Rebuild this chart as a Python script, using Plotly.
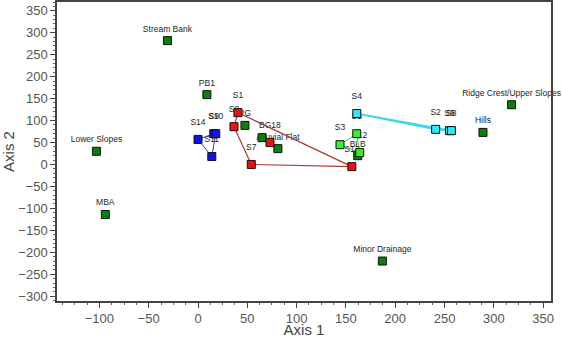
import plotly.graph_objects as go

# ---- data ----
hab_names = ["Stream Bank", "PB1", "Lower Slopes", "MBA", "Minor Drainage",
             "Ridge Crest/Upper Slopes", "Hills", "PG", "", "Alluvial Flat", "BLB"]
hab_x = [-31, 9, -103, -94, 187, 318, 289, 47.6, 65, 81, 162]
hab_y = [282, 159, 30, -114, -220, 136, 73, 89, 61, 36, 20]

red_names = ["S1", "S8", "BG18", "S7", "S13"]
red_x = [40.5, 36.5, 73, 54, 156]
red_y = [118, 86, 50, 0, -5]

blue_names = ["S14", "S9", "S10", "S11"]
blue_x = [0, 16, 18, 14]
blue_y = [57, 70, 70, 18]

cyan_names = ["S4", "S2", "S6", "S8"]
cyan_x = [161, 241, 255, 257]
cyan_y = [116, 80, 77, 77]

lime_names = ["S5", "S3", "S12"]
lime_x = [161, 144, 164]
lime_y = [70, 45, 27]

x_ticks = [-100, -50, 0, 50, 100, 150, 200, 250, 300, 350]
y_ticks = [-300, -250, -200, -150, -100, -50, 0, 50, 100, 150, 200, 250, 300, 350]


def hull(xs, ys):
    pts = sorted(set(zip(xs, ys)))
    if len(pts) < 3:
        return [p[0] for p in pts], [p[1] for p in pts]

    def cross(o, a, b):
        return (a[0] - o[0]) * (b[1] - o[1]) - (a[1] - o[1]) * (b[0] - o[0])
    lower, upper = [], []
    for p in pts:
        while len(lower) >= 2 and cross(lower[-2], lower[-1], p) <= 0:
            lower.pop()
        lower.append(p)
    for p in reversed(pts):
        while len(upper) >= 2 and cross(upper[-2], upper[-1], p) <= 0:
            upper.pop()
        upper.append(p)
    h = lower[:-1] + upper[:-1]
    h.append(h[0])
    return [p[0] for p in h], [p[1] for p in h]


FAMILY = "Liberation Sans, Arial, sans-serif"
TXT = "#1e1e1e"

fig = go.Figure()

# labels (drawn first, beneath markers)
fig.add_trace(go.Scatter(x=hab_x, y=hab_y, text=hab_names, mode="markers+text",
                         textposition="top center",
                         textfont=dict(family=FAMILY, size=8.5, color=TXT),
                         marker=dict(size=9.5, color="rgba(255,255,255,0)"),
                         hoverinfo="skip", showlegend=False, cliponaxis=False))
for xs, ys, names in [(red_x, red_y, red_names), (blue_x, blue_y, blue_names),
                      (cyan_x, cyan_y, cyan_names), (lime_x, lime_y, lime_names)]:
    fig.add_trace(go.Scatter(x=xs, y=ys, text=names, mode="markers+text",
                             textposition="top center",
                             textfont=dict(family=FAMILY, size=8.5, color=TXT),
                             marker=dict(size=18, color="rgba(255,255,255,0)"),
                             hoverinfo="skip", showlegend=False))

groups = [
    (red_x, red_y, "#ee1111", "#b03535", 1.2),
    (blue_x, blue_y, "#1414e0", "#3a3aa8", 1.0),
    (cyan_x, cyan_y, "#33e8f2", "#3fd8e4", 1.8),
    (lime_x, lime_y, "#33ee33", "#44c844", 1.0),
]
# hull lines
for xs, ys, mc, lc, lw in groups:
    hx, hy = hull(xs, ys)
    fig.add_trace(go.Scatter(x=hx, y=hy, mode="lines",
                             line=dict(color=lc, width=lw),
                             hoverinfo="skip", showlegend=False))

# markers
fig.add_trace(go.Scatter(x=hab_x, y=hab_y, mode="markers",
                         marker=dict(symbol="square", size=8, color="#0b7f0b",
                                     line=dict(color="#111", width=1)),
                         showlegend=False))
for xs, ys, mc, lc, lw in groups:
    fig.add_trace(go.Scatter(x=xs, y=ys, mode="markers",
                             marker=dict(symbol="square", size=8, color=mc,
                                         line=dict(color="#111", width=1)),
                             showlegend=False))

axis_common = dict(showgrid=False, zeroline=False, showline=True, linecolor="#444",
                   linewidth=1.5, mirror=True, ticks="outside", ticklen=5,
                   tickcolor="#444", tickwidth=1, automargin=False,
                   tickfont=dict(family=FAMILY, size=13, color="#555"))

fig.update_xaxes(range=[-143, 358], tickvals=x_ticks,
                 minor=dict(ticks="outside", ticklen=2.5, dtick=12.5, tick0=0,
                            tickcolor="#666"),
                 title=dict(text="Axis 1", standoff=1,
                            font=dict(family=FAMILY, size=15, color="#444")),
                 **axis_common)
fig.update_yaxes(range=[-311, 370], tickvals=y_ticks,
                 minor=dict(ticks="outside", ticklen=2.5, dtick=10, tick0=0,
                            tickcolor="#666"),
                 title=dict(text="Axis 2", standoff=3,
                            font=dict(family=FAMILY, size=15, color="#444")),
                 **axis_common)

fig.update_layout(width=562, height=338, margin=dict(l=57, r=11, t=2, b=37),
                  plot_bgcolor="white", paper_bgcolor="white", hovermode=False)

fig.write_html("out.html", config={"displayModeBar": False},
               post_script="document.body.style.margin='0';document.body.style.overflow='hidden';")
